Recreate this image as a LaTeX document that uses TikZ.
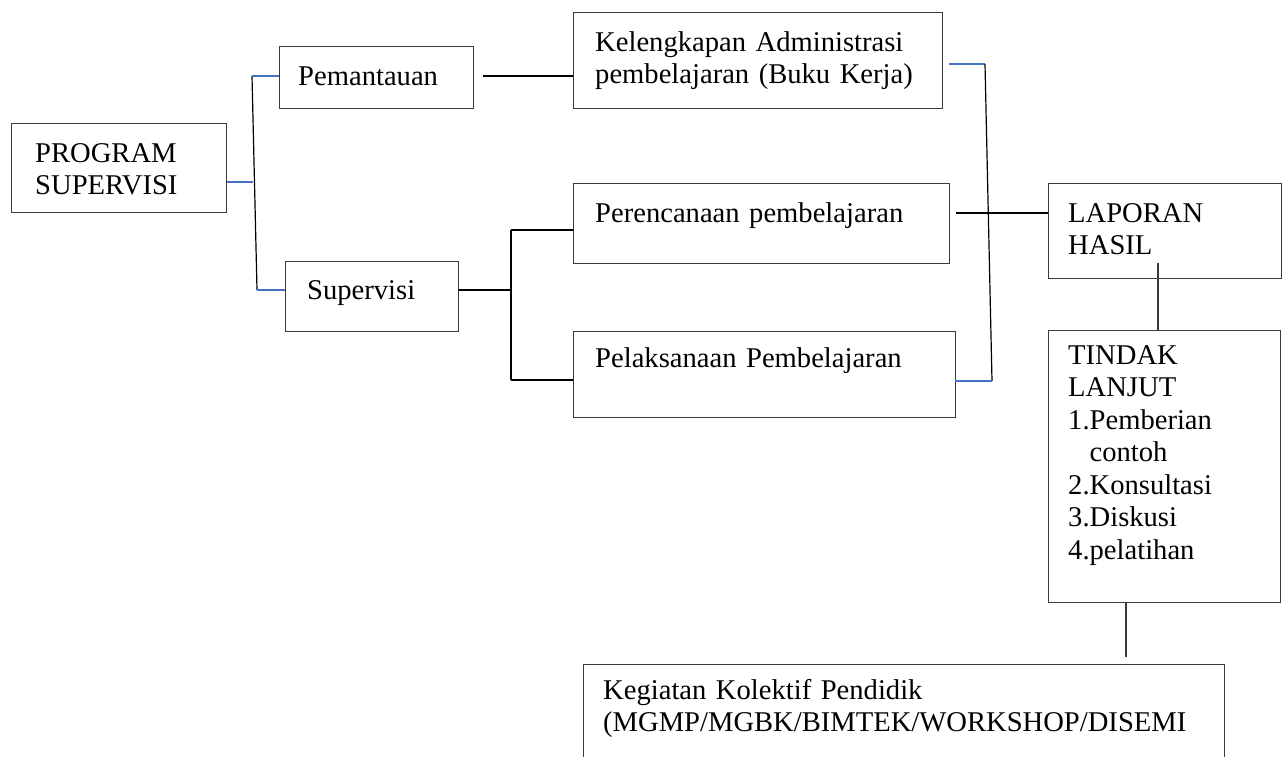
\documentclass[tikz,border=0pt]{standalone}
\usepackage{fontspec}
\setmainfont{Liberation Serif}
\definecolor{boxgray}{HTML}{3A3A3A}
\definecolor{linkblue}{HTML}{4472C4}
\newcommand{\bodysize}{\fontsize{28.6}{32.5}\selectfont}
\tikzset{
  box/.style={draw=boxgray, line width=1.4pt, inner sep=0pt, anchor=north west},
  txt/.style={anchor=base west, inner sep=0pt, text width=660pt, align=left, font=\bodysize},
  blink/.style={draw=linkblue, line width=1.3pt},
  klink/.style={draw=black, line width=1.2pt}
}
\begin{document}
\begin{tikzpicture}[x=1pt, y=-1pt]
\useasboundingbox (0,0) rectangle (1288,756);

% boxes
\node[box, minimum width=215pt, minimum height=89pt] (prog) at (11,123) {};
\node[box, minimum width=194pt, minimum height=62pt] (pem) at (279,46) {};
\node[box, minimum width=369pt, minimum height=96pt] (adm) at (573,12) {};
\node[box, minimum width=173pt, minimum height=70pt] (sup) at (285,261) {};
\node[box, minimum width=376pt, minimum height=80pt] (ren) at (573,183) {};
\node[box, minimum width=382pt, minimum height=86pt] (lak) at (573,331) {};
\node[box, minimum width=233pt, minimum height=95pt] (lap) at (1048,183) {};
\node[box, minimum width=232pt, minimum height=272pt] (tl) at (1048,330) {};
\node[box, minimum width=641pt, minimum height=100pt] (keg) at (583,664) {};

% texts
\node[txt] (progt) at (35,162) {PROGRAM\\SUPERVISI};
\node[txt] (pemt) at (298,85) {Pemantauan};
\node[txt] (admt) at (595,51) {Kelengkapan Administrasi\\pembelajaran (Buku Kerja)};
\node[txt] (supt) at (307,299) {Supervisi};
\node[txt] (rent) at (595,222) {Perencanaan pembelajaran};
\node[txt] (lakt) at (595,367) {Pelaksanaan Pembelajaran};
\node[txt] (lapt) at (1068,222) {LAPORAN\\HASIL};
\node[txt] (tlt) at (1068,364) {TINDAK\\LANJUT\\1.Pemberian\\\phantom{1.}contoh\\2.Konsultasi\\3.Diskusi\\4.pelatihan};
\node[txt] (kegt) at (603,699) {Kegiatan Kolektif Pendidik\\(MGMP/MGBK/BIMTEK/WORKSHOP/DISEMI};

% junction points
\coordinate (jprog) at (253,182);
\coordinate (jtop) at (252,76);
\coordinate (jbot) at (257,290);
\coordinate (jpem) at (483,76);
\coordinate (jsup) at (511,290);
\coordinate (jren) at (511,230);
\coordinate (jlak) at (511,380);
\coordinate (radm) at (949,64);
\coordinate (rtop) at (985,64);
\coordinate (rbot) at (992,381);
\coordinate (rlak) at (955,381);
\coordinate (rren) at (956,213);
\coordinate (lapin) at (1158,263);
\coordinate (tlout) at (1126,602);
\coordinate (kegin) at (1126,657);

% left branch
\draw[blink] (jprog -| prog.east) -- (jprog);
\draw[klink] (jtop) -- (jbot);
\draw[blink] (jtop) -- (jtop -| pem.west);
\draw[blink] (jbot) -- (jbot -| sup.west);
\draw[klink] (jpem) -- (jpem -| adm.west);

% supervisi branch
\draw[klink] (jsup -| sup.east) -- (jsup);
\draw[klink] (jren) -- (jlak);
\draw[klink] (jren) -- (jren -| ren.west);
\draw[klink] (jlak) -- (jlak -| lak.west);

% right side collector
\draw[blink] (radm) -- (rtop);
\draw[klink] (rtop) -- (rbot);
\draw[blink] (rlak) -- (rbot);
\draw[klink] (rren) -- (rren -| lap.west);

% follow-up chain
\draw[klink, draw=boxgray] (lapin) -- (lapin |- tl.north);
\draw[klink, draw=boxgray] (tlout) -- (kegin);
\end{tikzpicture}
\end{document}
